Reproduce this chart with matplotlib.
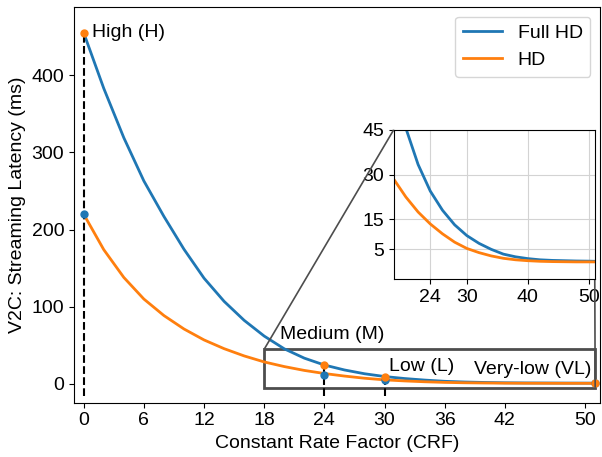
import matplotlib
matplotlib.use("Agg")
import matplotlib.pyplot as plt
from mpl_toolkits.axes_grid1.inset_locator import mark_inset

plt.rcParams["font.family"] = ["Liberation Sans", "DejaVu Sans"]
plt.rcParams["font.size"] = 14

# values, every 2 CRF steps
crf = [0, 2, 4, 6, 8, 10, 12, 14, 16, 18, 20, 22, 24, 26, 28, 30,
       32, 34, 36, 38, 40, 42, 44, 46, 48, 50, 51]
full_hd = [455, 383, 319, 263, 217, 174.5, 137, 107, 82.4, 62, 45.5, 33.4, 24.5, 18.1, 13.2, 9.6,
           7.0, 5.0, 3.4, 2.5, 1.9, 1.5, 1.3, 1.2, 1.1, 1.05, 1.0]
hd = [220, 174, 138, 110, 88.6, 71.2, 57, 45.7, 36.3, 28.5, 22.5, 17.5, 13.5, 10.2, 7.4, 5.3,
      3.9, 2.8, 2.0, 1.5, 1.2, 1.0, 0.9, 0.85, 0.8, 0.8, 0.8]

# quality levels
level_crf = [0, 24, 30, 51]
level_full_hd = [455, 25, 9.6, 1.0]
level_hd = [220, 12, 5.3, 0.8]
dashed_crf = [0, 24, 30]
dashed_top = [455, 26, 9.6]

xticks = [0, 6, 12, 18, 24, 30, 36, 42, 50]
yticks = [0, 100, 200, 300, 400]
inset_xticks = [24, 30, 40, 50]
inset_yticks = [5, 15, 30, 45]

fig = plt.figure(figsize=(6.02, 4.57), dpi=100)
ax = fig.add_axes([0.123, 0.119, 0.874, 0.866])

ax.plot(crf, full_hd, color="C0", lw=2, label="Full HD")
ax.plot(crf, hd, color="C1", lw=2, label="HD")
ax.vlines(dashed_crf, -16, dashed_top, colors="black", linestyles="--", lw=1.5, zorder=3)
ax.scatter(level_crf, level_hd, color="C0", s=25, zorder=4)
ax.scatter(level_crf, level_full_hd, color="C1", s=25, zorder=4)

ax.text(0.8, 455, "High (H)", va="center", ha="left")
ax.text(19.6, 64, "Medium (M)", va="center", ha="left")
ax.text(30.4, 23, "Low (L)", va="center", ha="left")
ax.text(38.9, 19, "Very-low (VL)", va="center", ha="left")

ax.set_xlim(-0.96, 51.5)
ax.set_ylim(-24.2, 488.5)
ax.set_xticks(xticks)
ax.set_yticks(yticks)
ax.set_xlabel("Constant Rate Factor (CRF)")
ax.set_ylabel("V2C: Streaming Latency (ms)")
ax.legend(loc="upper right")

axins = fig.add_axes([0.654, 0.389, 0.334, 0.327])
axins.plot(crf, full_hd, color="C0", lw=2)
axins.plot(crf, hd, color="C1", lw=2)
axins.set_xlim(18, 51)
axins.set_ylim(-5, 45)
axins.set_xticks(inset_xticks)
axins.set_yticks(inset_yticks)
axins.grid(True, color="lightgray")
axins.set_axisbelow(True)

box, con1, con2 = mark_inset(ax, axins, loc1=2, loc2=4, fc="none", ec="0.3", lw=2)
con1.set_linewidth(1.2)
con2.set_linewidth(1.2)

fig.savefig("out.png", dpi=100)
